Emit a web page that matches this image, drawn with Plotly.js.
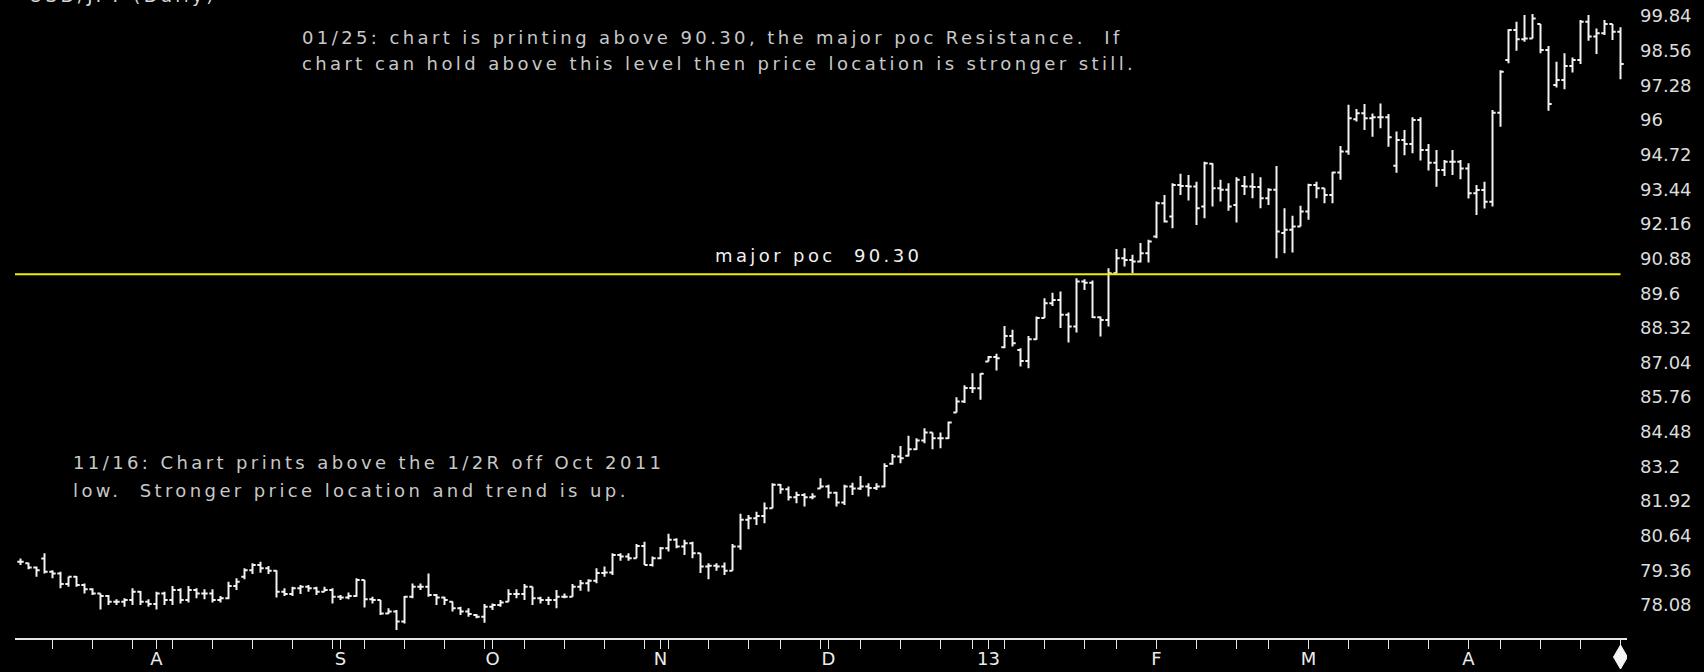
<!DOCTYPE html>
<html>
<head>
<meta charset="utf-8">
<script src="https://cdn.plot.ly/plotly-3.0.1.min.js"></script>
<style>
  html, body { margin: 0; padding: 0; background: #000; overflow: hidden; }
  #chart { width: 1704px; height: 672px; }
  g.annotation text { letter-spacing: 3.4px; }
</style>
</head>
<body>
<div id="chart"></div>
<script>
// ---- DATA (USD/JPY daily OHLC) ----
const startDate = '2012-07-09';
const endDate = '2013-04-26';
const marketHolidays = ['2012-09-03','2012-10-29','2012-10-30','2012-11-22','2012-12-25',
                        '2013-01-01','2013-01-21','2013-02-18','2013-03-29'];

const opens = [
 79.68,79.62,79.47,79.80,79.31,79.25,78.86,79.13,78.82,78.66,
 78.51,78.41,78.20,78.20,78.27,78.57,78.20,78.12,78.51,78.27,
 78.64,78.27,78.64,78.51,78.51,78.27,78.33,78.78,79.13,79.37,
 79.56,79.44,79.35,78.57,78.49,78.70,78.76,78.70,78.57,78.64,
 78.39,78.36,78.41,79.01,78.29,78.27,77.77,77.84,77.47,78.39,
 78.76,78.76,78.45,78.36,78.20,77.96,77.84,77.71,77.65,78.02,
 78.08,78.20,78.49,78.49,78.76,78.33,78.27,78.27,78.39,78.39,
 78.76,78.89,78.98,79.26,79.28,79.93,79.87,79.81,80.26,79.56,
 79.81,80.18,80.49,80.24,80.36,79.99,79.50,79.53,79.50,79.35,
 80.24,81.23,81.29,81.37,81.66,82.52,82.36,82.06,82.15,82.06,
 82.39,82.46,82.23,81.87,82.46,82.39,82.46,82.40,82.46,83.30,
 83.57,83.60,83.84,84.16,84.45,84.24,84.24,85.19,85.60,86.10,
 86.09,87.08,87.24,87.60,88.02,87.50,87.10,87.90,88.68,89.23,
 89.35,88.80,88.37,90.03,89.99,88.71,88.61,90.34,90.89,90.83,
 90.77,91.08,91.69,92.92,92.43,93.60,93.56,93.54,92.80,94.38,
 93.48,93.42,92.86,93.56,93.54,93.52,93.11,93.42,91.82,91.94,
 92.06,92.62,93.60,93.48,93.23,94.06,94.83,96.03,96.25,96.06,
 96.10,96.10,94.31,95.26,95.11,96.00,94.89,94.42,94.15,94.46,
 94.46,94.21,93.29,93.41,92.98,96.27,98.21,99.32,98.98,99.01,
 99.54,98.58,97.29,97.48,97.99,98.21,99.63,99.08,99.20,99.54,
 99.26];

const highs = [
 79.80,79.64,79.50,79.99,79.37,79.31,79.13,79.15,78.88,78.70,
 78.51,78.45,78.29,78.33,78.70,78.60,78.29,78.57,78.57,78.78,
 78.70,78.78,78.70,78.66,78.66,78.41,78.94,79.07,79.44,79.62,
 79.68,79.52,79.37,78.70,78.76,78.82,78.82,78.76,78.76,78.70,
 78.45,78.54,79.07,79.01,78.39,78.27,77.96,77.90,78.41,78.88,
 78.88,79.25,78.49,78.39,78.21,78.02,77.96,77.75,78.12,78.14,
 78.27,78.66,78.66,78.86,78.76,78.39,78.39,78.64,78.51,78.86,
 79.01,79.03,79.44,79.50,79.99,79.99,79.99,80.34,80.42,79.87,
 80.22,80.71,80.55,80.49,80.42,79.99,79.62,79.62,79.65,80.34,
 81.45,81.41,81.53,81.87,82.58,82.55,82.46,82.27,82.21,82.21,
 82.76,82.52,82.27,82.52,82.60,82.85,82.58,82.58,83.32,83.66,
 83.96,84.33,84.24,84.61,84.45,84.45,84.86,85.76,86.20,86.64,
 86.64,87.28,87.36,88.39,88.25,87.57,88.02,88.74,89.41,89.62,
 89.66,88.89,90.15,90.12,90.07,88.74,90.52,91.23,91.26,91.02,
 91.45,91.57,92.99,93.23,93.66,94.01,93.97,93.72,94.46,94.40,
 93.79,93.66,93.88,93.93,94.03,93.88,93.48,94.30,92.74,92.46,
 92.83,93.64,93.72,93.48,94.09,95.04,96.56,96.40,96.59,96.24,
 96.61,96.22,95.57,95.63,96.10,96.10,95.11,94.89,94.52,94.89,
 94.52,94.40,93.60,93.72,96.37,97.84,99.35,99.63,99.88,99.91,
 99.54,98.73,98.15,98.46,98.31,99.69,99.88,99.38,99.69,99.54,
 99.42];

const lows = [
 79.56,79.40,79.13,79.25,79.07,78.70,78.76,78.76,78.51,78.45,
 77.92,78.08,78.08,78.02,78.08,78.08,78.02,77.92,78.08,78.08,
 78.14,78.17,78.33,78.29,78.17,78.17,78.29,78.64,79.03,79.23,
 79.27,79.23,78.36,78.41,78.41,78.49,78.57,78.45,78.57,78.14,
 78.27,78.29,78.39,77.99,78.14,77.71,77.75,77.16,77.40,78.33,
 78.64,78.39,78.08,78.08,77.84,77.71,77.65,77.59,77.43,77.90,
 78.02,78.20,78.33,78.27,78.08,78.14,78.08,77.96,78.33,78.39,
 78.61,78.58,78.89,79.13,79.19,79.72,79.72,79.81,79.56,79.50,
 79.77,80.06,80.18,79.93,79.81,79.26,79.03,79.35,79.19,79.35,
 80.12,80.88,81.04,81.10,81.66,82.19,81.94,81.84,81.72,81.99,
 82.39,82.03,81.72,81.78,82.15,82.33,82.09,82.33,82.43,83.26,
 83.32,83.57,83.81,84.06,83.84,83.87,84.21,85.19,85.54,85.91,
 85.66,87.08,86.74,87.57,87.63,86.89,86.83,87.88,88.68,89.13,
 88.31,87.78,88.15,89.72,88.68,88.00,88.37,90.34,90.59,90.34,
 90.73,90.73,91.63,92.21,92.00,93.23,93.02,92.12,92.37,92.80,
 92.99,92.65,92.21,93.23,93.11,92.74,92.86,90.89,91.08,91.10,
 92.06,92.31,93.11,92.92,92.92,93.79,94.71,95.94,95.63,95.38,
 95.69,95.01,94.05,94.70,94.77,94.50,94.13,93.53,93.93,93.97,
 93.81,93.10,92.49,92.73,92.80,95.75,98.09,98.56,98.89,99.01,
 98.46,96.34,97.20,97.13,97.75,98.07,98.93,98.44,99.14,98.95,
 97.50];

const closes = [
 79.68,79.47,79.37,79.31,79.25,78.86,79.13,78.82,78.66,78.51,
 78.41,78.20,78.20,78.27,78.57,78.20,78.12,78.51,78.27,78.64,
 78.27,78.64,78.51,78.51,78.27,78.33,78.78,78.94,79.37,79.56,
 79.44,79.35,78.57,78.49,78.70,78.76,78.70,78.57,78.64,78.39,
 78.36,78.41,79.01,78.29,78.27,77.77,77.84,77.47,78.39,78.76,
 78.76,78.45,78.36,78.27,77.96,77.84,77.75,77.65,78.02,78.08,
 78.17,78.49,78.49,78.76,78.33,78.27,78.27,78.39,78.39,78.76,
 78.89,78.98,79.26,79.28,79.93,79.87,79.81,80.26,79.56,79.81,
 80.18,80.49,80.24,80.36,79.99,79.50,79.53,79.50,79.35,80.24,
 81.23,81.29,81.37,81.66,82.52,82.36,82.06,82.15,82.06,82.09,
 82.46,82.23,81.87,82.46,82.39,82.46,82.40,82.46,83.22,83.57,
 83.50,83.84,84.16,84.45,84.24,84.24,84.82,85.60,86.10,86.09,
 86.62,87.24,87.20,88.02,87.75,87.10,87.90,88.68,89.23,89.35,
 88.80,88.37,90.03,89.99,88.71,88.61,90.34,90.89,90.83,90.77,
 91.08,91.51,92.92,92.25,93.60,93.56,93.54,92.74,94.40,93.48,
 93.42,92.80,93.79,93.54,93.52,93.11,93.42,91.88,91.94,92.06,
 92.62,93.60,93.48,93.23,94.06,94.83,96.06,96.25,96.06,96.10,
 96.10,95.36,95.26,95.11,96.00,94.89,94.42,94.15,94.46,94.46,
 94.21,93.29,93.41,92.98,96.27,97.78,99.32,98.98,99.01,99.75,
 98.58,96.59,97.48,97.99,98.21,99.63,99.08,99.20,99.54,99.26,
 98.07];

const pocLevel = 90.30;
const yTickValues = [78.08,79.36,80.64,81.92,83.2,84.48,85.76,87.04,88.32,89.6,
                     90.88,92.16,93.44,94.72,96,97.28,98.56,99.84];
const yTickLabels = ['78.08','79.36','80.64','81.92','83.2','84.48','85.76','87.04','88.32','89.6',
                     '90.88','92.16','93.44','94.72','96','97.28','98.56','99.84'];
const monthLabels = ['A','S','O','N','D','13','F','M','A'];

const chartTitle = 'USD/JPY (Daily)';
const noteTop = ['01/25: chart is printing above 90.30, the major poc Resistance.\u00a0 If',
                 'chart can hold above this level then price location is stronger still.'];
const noteBottom = ['11/16: Chart prints above the 1/2R off Oct 2011',
                    'low.\u00a0 Stronger price location and trend is up.'];
const pocLabel = 'major poc\u00a0 90.30';

// ---- trading calendar (x positions are bar indices) ----
function isoDay(d){ return d.toISOString().slice(0,10); }
const dates = [];
for (let d = new Date(startDate + 'T00:00:00Z'); isoDay(d) <= endDate; d.setUTCDate(d.getUTCDate()+1)) {
  const wd = d.getUTCDay();
  if (wd === 0 || wd === 6) continue;
  if (marketHolidays.includes(isoDay(d))) continue;
  dates.push(isoDay(d));
}
const n = opens.length;
const idx = opens.map((_, i) => i);

const monthTickVals = [];
for (let i = 1; i < dates.length; i++) {
  if (dates[i].slice(5,7) !== dates[i-1].slice(5,7)) monthTickVals.push(i);
}
const fridayTickVals = [];
dates.forEach((ds, i) => { if (new Date(ds + 'T00:00:00Z').getUTCDay() === 5) fridayTickVals.push(i); });

const xRange = [-0.6875, n - 1 + 0.8125];
const yRange = [76.863, 100.431];

const FONT = 'DejaVu Sans, Verdana, sans-serif';
const W = 1704, H = 672, ML = 15, MR = 77, MT = 0, MB = 34;
const PW = W - ML - MR, PH = H - MT - MB;
const px = x => (x - ML) / PW;
const py = y => 1 - (y - MT) / PH;

const trace = {
  type: 'ohlc',
  x: idx, open: opens, high: highs, low: lows, close: closes,
  increasing: { line: { color: '#f2f2f2', width: 2 } },
  decreasing: { line: { color: '#f2f2f2', width: 2 } },
  tickwidth: 0.4,
  hoverinfo: 'skip',
  showlegend: false
};

function noteLine(text, xPix, yPix, color) {
  return { xref: 'paper', yref: 'paper', x: px(xPix), y: py(yPix), xanchor: 'left', yanchor: 'middle',
           align: 'left', text: text, showarrow: false, font: { family: FONT, size: 18, color: color } };
}

const layout = {
  width: W, height: H,
  margin: { l: ML, r: MR, t: MT, b: MB, pad: 0 },
  paper_bgcolor: '#000', plot_bgcolor: '#000',
  showlegend: false,
  font: { family: FONT, color: '#e0e0e0', size: 17 },
  xaxis: {
    range: xRange, rangeslider: { visible: false },
    showgrid: false, zeroline: false,
    showline: true, linecolor: '#e6e6e6', linewidth: 2,
    tickmode: 'array', tickvals: monthTickVals, ticktext: monthLabels.slice(0, monthTickVals.length),
    ticks: 'outside', ticklen: 9, tickwidth: 1.5, tickcolor: '#e6e6e6',
    ticklabelstandoff: -6,
    tickfont: { family: FONT, size: 18, color: '#ececec' },
    minor: { tickmode: 'array', tickvals: fridayTickVals, ticks: 'outside', ticklen: 9, tickwidth: 1.5, tickcolor: '#e6e6e6', showgrid: false },
    fixedrange: true
  },
  yaxis: {
    side: 'right', range: yRange,
    showgrid: false, zeroline: false, showline: false,
    tickmode: 'array', tickvals: yTickValues, ticktext: yTickLabels,
    ticks: '', ticklabelstandoff: 12,
    tickfont: { family: FONT, size: 18, color: '#dcdcdc' },
    fixedrange: true
  },
  shapes: [
    { type: 'line', xref: 'x', yref: 'y', x0: xRange[0], x1: n - 1, y0: pocLevel, y1: pocLevel,
      line: { color: '#eeee00', width: 2 } },
    { type: 'path', xref: 'x', yref: 'paper', xsizemode: 'pixel', ysizemode: 'pixel',
      xanchor: n - 1, yanchor: 0,
      path: 'M 0 -7 L 7 -19 L 0 -31 L -7 -19 Z',
      fillcolor: '#f4f4f4', line: { color: '#f4f4f4', width: 1 } }
  ],
  annotations: [
    noteLine(chartTitle, 27, -4, '#d8d8d8'),
    noteLine(noteTop[0], 300, 38, '#c8c8c8'),
    noteLine(noteTop[1], 300, 63, '#c8c8c8'),
    { xref: 'paper', yref: 'y', x: px(713), y: pocLevel, xanchor: 'left', yanchor: 'middle', yshift: 19,
      align: 'left', text: pocLabel, showarrow: false, font: { family: FONT, size: 18, color: '#f0f0f0' } },
    noteLine(noteBottom[0], 71, 462, '#c8c8c8'),
    noteLine(noteBottom[1], 71, 490, '#c8c8c8')
  ]
};

Plotly.newPlot('chart', [trace], layout, { displayModeBar: false, staticPlot: true });
</script>
</body>
</html>
